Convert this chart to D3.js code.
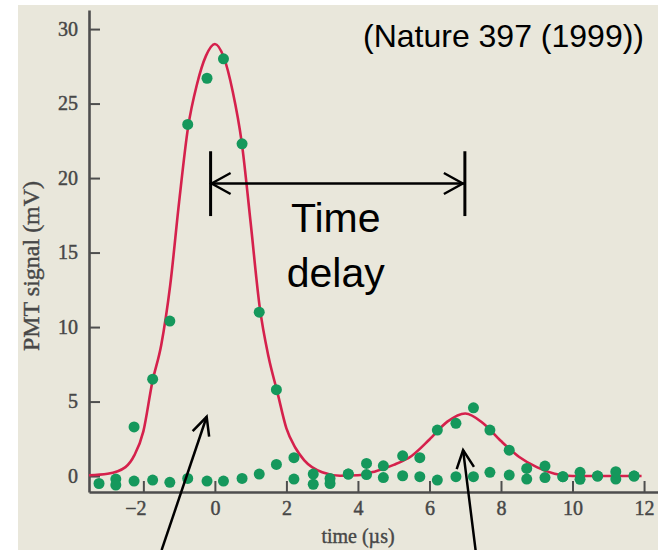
<!DOCTYPE html>
<html>
<head>
<meta charset="utf-8">
<script src="https://cdn.jsdelivr.net/npm/d3@7/dist/d3.min.js"></script>
<style>
  html, body { margin: 0; padding: 0; background: #ffffff; }
  svg { display: block; }
</style>
</head>
<body>
<svg id="chart" width="658" height="550"></svg>
<script>
// ---- data ----
const times = [-3.24, -2.77, -2.26, -1.74, -1.26, -0.76, -0.22, 0.24, 0.76, 1.24, 1.72, 2.21, 2.75, 3.22, 3.73,
               4.24, 4.71, 5.25, 5.73, 6.22, 6.74, 7.23, 7.69, 8.23, 8.72, 9.23, 9.73, 10.21, 10.7, 11.21, 11.72];
// reference pulse (peak near t = 0)
const referencePulse = [null, -0.2, 3.3, 6.5, 10.4, 23.6, 26.7, 28.0, 22.3, 11.0, 5.8, -0.2, -0.55, -0.5, 0.13,
                        0.1, -0.1, 0.02, -0.04, -0.27, -0.04, -0.04, 0.25, 0.07, -0.2, -0.1, -0.04, -0.22, 0.0, -0.2, 0.0];
// delayed (slowed) pulse (peak near t = 7)
const delayedPulse = [-0.5, -0.6, -0.34, -0.27, -0.42, -0.16, -0.34, -0.34, -0.16, 0.13, 0.78, 1.23, 0.13, -0.16, 0.13,
                      0.85, 0.69, 1.36, 1.23, 3.09, 3.54, 4.58, 3.09, 1.74, 0.51, 0.67, -0.04, 0.25, 0.0, 0.29, 0.0];
// fitted curve, read at these times
const fitTimes = [-3.52, -3.0, -2.5, -2.25, -2.0, -1.75, -1.5, -1.25, -1.0, -0.75, -0.5, -0.25, 0, 0.25, 0.5, 0.75,
                  1.0, 1.25, 1.5, 1.75, 2.0, 2.25, 2.5, 3.0, 3.5, 4.0, 4.5, 5.0, 5.5, 6.0, 6.5, 7.0, 7.5, 8.0, 8.5,
                  9.0, 9.5, 10.0, 10.5, 11.0, 11.5, 11.93];
const fitValues = [0.05, 0.15, 0.6, 1.4, 3.0, 6.3, 8.8, 12.8, 18.4, 23.4, 26.3, 28.2, 29.0, 28.1, 25.8, 22.4,
                   17.0, 11.4, 8.0, 5.6, 3.2, 1.9, 1.05, 0.25, 0.02, 0.05, 0.33, 0.75, 1.35, 2.45, 3.65, 4.2, 3.55, 2.35, 1.3,
                   0.6, 0.15, 0.0, 0.0, 0.0, 0.0, 0.0];
const xTicks = [-2, 0, 2, 4, 6, 8, 10, 12];
const yTicks = [0, 5, 10, 15, 20, 25, 30];
const xTitle = "time (\u00b5s)";
const yTitle = "PMT signal (mV)";
const sourceText = "(Nature 397 (1999))";
const delayLabel = ["Time", "delay"];
// annotation anchors in data units
const delayStart = -0.12, delayEnd = 6.99, delayY = 19.64, barTop = 21.8, barBottom = 17.45;
const labelT = 3.38, labelY = [16.38, 12.68];
const pointerArrows = [
  { from: [-1.49, -4.97], to: [-0.23, 3.98] },
  { from: [7.29, -4.97], to: [6.94, 1.74] }
];

// ---- drawing ----
const svg = d3.select("#chart");
svg.append("rect").attr("x", 0).attr("y", 0).attr("width", 658).attr("height", 550).attr("fill", "#ffffff");
svg.append("rect").attr("x", 18).attr("y", 5).attr("width", 640).attr("height", 545).attr("fill", "#e9e7db");

const x = d3.scaleLinear().domain([-3.52, 12.39]).range([89, 658]);
const y = d3.scaleLinear().domain([-1.07, 31.28]).range([492, 10]);

const axisColor = "#4e4e4e";
const textColor = "#474747";
const xAxis = svg.append("g").attr("transform", `translate(0,${y.range()[0]})`)
  .call(d3.axisBottom(x).tickValues(xTicks).tickSizeInner(-11).tickSizeOuter(0).tickPadding(9));
const yAxis = svg.append("g").attr("transform", `translate(${x.range()[0]},0)`)
  .call(d3.axisLeft(y).tickValues(yTicks).tickSizeInner(-11).tickSizeOuter(0).tickPadding(11));
[xAxis, yAxis].forEach(g => {
  g.attr("font-family", "'Liberation Serif', 'DejaVu Serif', serif").attr("font-size", 20);
  g.select(".domain").attr("stroke", axisColor).attr("stroke-width", 2.6);
  g.selectAll(".tick line").attr("stroke", axisColor).attr("stroke-width", 2);
  g.selectAll(".tick text").attr("fill", textColor).attr("stroke", textColor).attr("stroke-width", 0.45);
});
xAxis.selectAll(".tick text").attr("dx", d => d < 0 ? -8 : 0);

svg.append("text").attr("x", 358).attr("y", 543).attr("text-anchor", "middle")
  .attr("font-family", "'Liberation Serif', serif").attr("font-size", 20)
  .attr("fill", textColor).attr("stroke", textColor).attr("stroke-width", 0.4).text(xTitle);
svg.append("text").attr("transform", "translate(39,266) rotate(-90)").attr("text-anchor", "middle")
  .attr("font-family", "'Liberation Serif', serif").attr("font-size", 24)
  .attr("fill", textColor).attr("stroke", textColor).attr("stroke-width", 0.4).text(yTitle);

// fitted curve
const fit = fitTimes.map((t, i) => [t, fitValues[i]]);
svg.append("path").datum(fit)
  .attr("d", d3.line().x(d => x(d[0])).y(d => y(d[1])).curve(d3.curveMonotoneX))
  .attr("fill", "none").attr("stroke", "#d5214c").attr("stroke-width", 2.6);

// points
const pts = [];
times.forEach((t, i) => {
  if (referencePulse[i] !== null) pts.push([t, referencePulse[i]]);
  if (delayedPulse[i] !== null) pts.push([t, delayedPulse[i]]);
});
svg.append("g").selectAll("circle").data(pts).join("circle")
  .attr("cx", d => x(d[0])).attr("cy", d => y(d[1])).attr("r", 5.5).attr("fill", "#15985c");

// time delay annotation
const ann = svg.append("g").attr("stroke", "#000").attr("fill", "none");
[delayStart, delayEnd].forEach(t => {
  ann.append("line").attr("x1", x(t)).attr("x2", x(t)).attr("y1", y(barTop)).attr("y2", y(barBottom)).attr("stroke-width", 3);
});
ann.append("line").attr("x1", x(delayStart)).attr("x2", x(delayEnd)).attr("y1", y(delayY)).attr("y2", y(delayY)).attr("stroke-width", 2.4);
const xs = x(delayStart) + 1, xe = x(delayEnd) - 2, yy = y(delayY);
ann.append("path").attr("d", `M${xs + 19},${yy - 10.5}L${xs},${yy}L${xs + 19},${yy + 10.5}`).attr("stroke-width", 2.4);
ann.append("path").attr("d", `M${xe - 19},${yy - 10.5}L${xe},${yy}L${xe - 19},${yy + 10.5}`).attr("stroke-width", 2.4);

delayLabel.forEach((s, i) => {
  svg.append("text").attr("x", x(labelT)).attr("y", y(labelY[i])).attr("text-anchor", "middle")
    .attr("font-family", "'Liberation Sans', Arial, sans-serif").attr("font-size", 41).attr("fill", "#000").text(s);
});

pointerArrows.forEach(a => {
  const x1 = x(a.from[0]), y1 = y(a.from[1]), x2 = x(a.to[0]), y2 = y(a.to[1]);
  const ang = Math.atan2(y2 - y1, x2 - x1);
  const L = 20, spread = 0.45;
  const p1 = [x2 - L * Math.cos(ang - spread), y2 - L * Math.sin(ang - spread)];
  const p2 = [x2 - L * Math.cos(ang + spread), y2 - L * Math.sin(ang + spread)];
  ann.append("line").attr("x1", x1).attr("y1", y1).attr("x2", x2).attr("y2", y2).attr("stroke-width", 2.5);
  ann.append("path").attr("d", `M${p1[0]},${p1[1]}L${x2},${y2}L${p2[0]},${p2[1]}`).attr("stroke-width", 2.5);
});

svg.append("text").attr("x", 644).attr("y", 47).attr("text-anchor", "end")
  .attr("font-family", "'Liberation Sans', Arial, sans-serif").attr("font-size", 32).attr("fill", "#000").text(sourceText);
</script>
</body>
</html>
